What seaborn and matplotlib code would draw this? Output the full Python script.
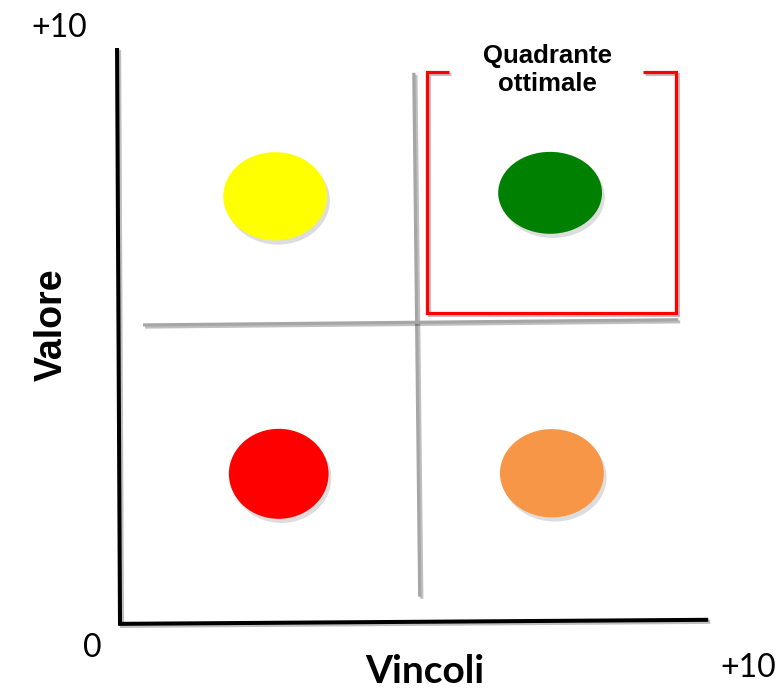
import matplotlib
matplotlib.use("Agg")
import matplotlib.pyplot as plt
import matplotlib.patheffects as pe
from matplotlib.patches import Ellipse
import seaborn as sns
import pandas as pd

# ---- data ----
circle_names = ["giallo", "verde", "rosso", "arancio"]
circle_x = [2.63, 7.29, 2.69, 7.32]
circle_y = [7.43, 7.49, 2.62, 2.63]
circle_w = [1.76, 1.76, 1.69, 1.76]
circle_h = [1.53, 1.42, 1.56, 1.53]
circle_colors = ["#ffff00", "#008000", "#ff0000", "#f79646"]

axis_x = [-0.05, 0.0, 9.97]
axis_y = [10.0, 0.02, 0.09]

cross_v_x = [4.98, 5.08]
cross_v_y = [9.57, 0.49]
cross_h_x = [0.39, 9.46]
cross_h_y = [5.20, 5.29]

bracket_x = [5.58, 5.20, 5.20, 9.42, 9.42, 8.86]
bracket_y = [9.58, 9.58, 5.41, 5.41, 9.58, 9.58]

x_label = "Vincoli"
y_label = "Valore"
quadrant_label = "Quadrante\nottimale"
tick_min = "0"
tick_max = "+10"

# ---- figure ----
sns.set_style("white")
plt.rcParams["font.family"] = ["Lato", "DejaVu Sans"]
plt.rcParams["text.color"] = "black"

fig = plt.figure(figsize=(7.8, 6.96), dpi=100)
ax = fig.add_axes([120 / 780, (696 - 625) / 696, 590 / 780, 577 / 696])
ax.set_xlim(0, 10)
ax.set_ylim(0, 10)
ax.axis("off")

shadow_line = [pe.SimpleLineShadow(offset=(1.5, -1.5), alpha=0.25), pe.Normal()]

def seg(xs, ys, color, lw):
    df = pd.DataFrame({"x": xs, "y": ys})
    sns.lineplot(data=df, x="x", y="y", sort=False, estimator=None, ax=ax,
                 color=color, linewidth=lw, clip_on=False,
                 solid_capstyle="butt", solid_joinstyle="miter",
                 path_effects=shadow_line)

seg(cross_v_x, cross_v_y, "#a6a6a6", 2.3)
seg(cross_h_x, cross_h_y, "#a6a6a6", 2.3)
seg(bracket_x, bracket_y, "#ff0000", 2.3)
seg(axis_x, axis_y, "#000000", 2.9)

for x, y, w, h, c in zip(circle_x, circle_y, circle_w, circle_h, circle_colors):
    e = Ellipse((x, y), w, h, facecolor=c, edgecolor="none", zorder=3,
                path_effects=[pe.withSimplePatchShadow(offset=(2, -3), alpha=0.2,
                                                       shadow_rgbFace="#555555")])
    ax.add_patch(e)

arial = ["Liberation Sans", "DejaVu Sans"]

ax.text(7.24, 9.62, quadrant_label, ha="center", va="center", fontsize=18.5,
        fontweight="bold", family=arial, linespacing=1.2, color="black")

ax.text(-1.03, 10.35, tick_max, ha="center", va="center", fontsize=23, color="black")
ax.text(-0.47, -0.40, tick_min, ha="center", va="center", fontsize=23, color="black")
ax.text(10.64, -0.75, tick_max, ha="center", va="center", fontsize=23, color="black")

ax.text(5.17, -0.81, x_label, ha="center", va="center", fontsize=28,
        fontweight="bold", color="black")
ax.text(-1.15, 5.2, y_label, ha="center", va="center", fontsize=27,
        fontweight="bold", rotation=90, family=arial, color="black")

fig.savefig("out.png", dpi=100)
